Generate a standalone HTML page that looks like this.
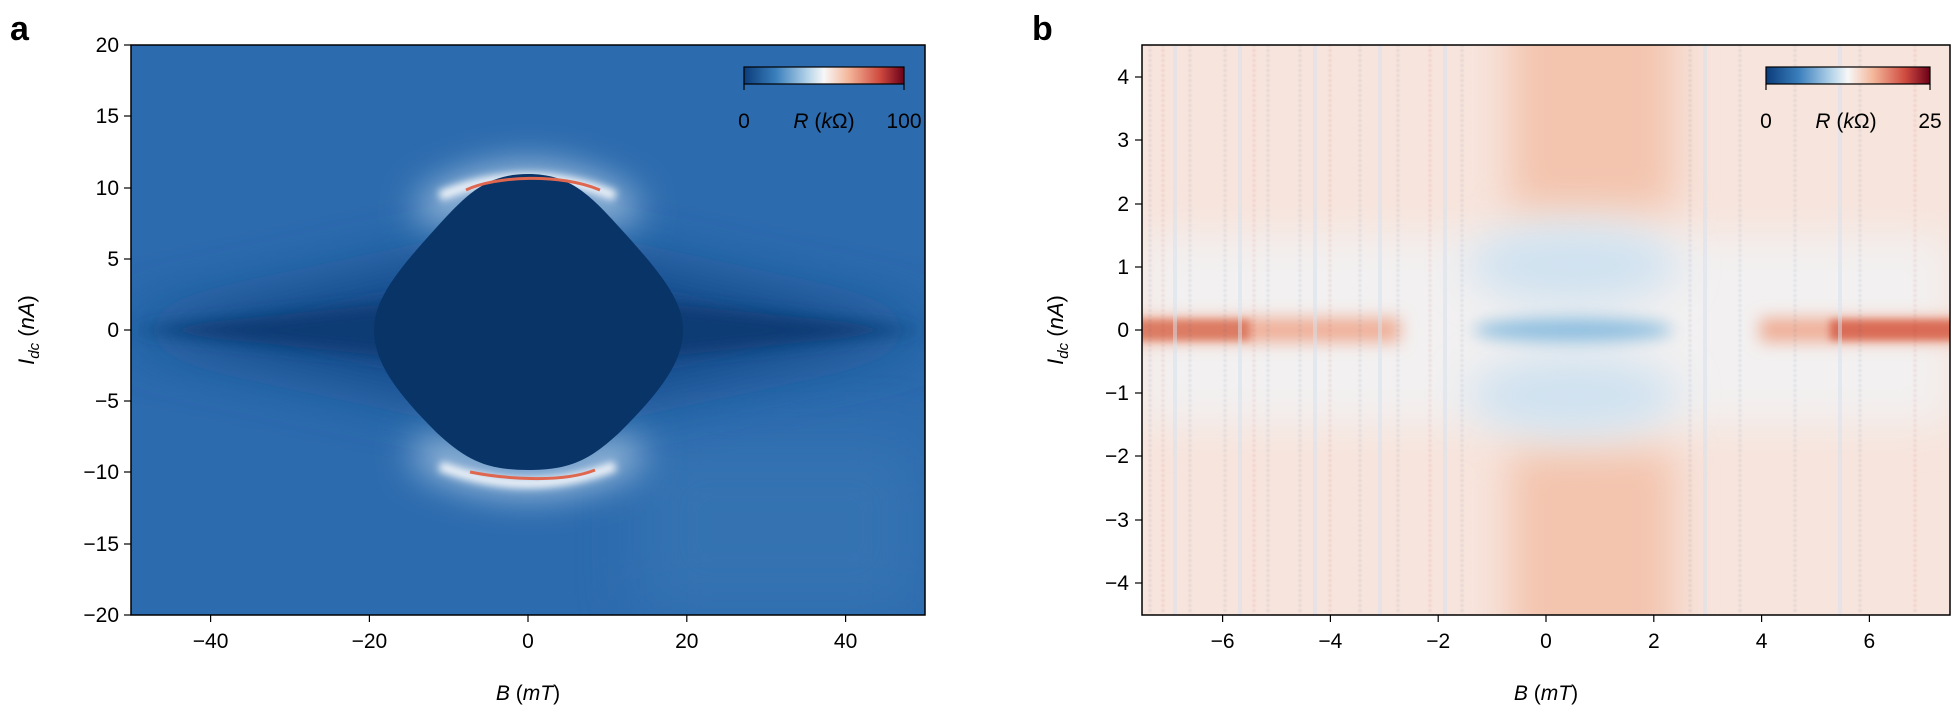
<!DOCTYPE html>
<html><head><meta charset="utf-8"><style>
html,body{margin:0;padding:0;background:#fff;}
svg{display:block;font-family:"Liberation Sans",sans-serif;}
</style></head><body>
<svg width="1953" height="720" viewBox="0 0 1953 720" xmlns="http://www.w3.org/2000/svg">
<defs>
<filter id="b8" filterUnits="userSpaceOnUse" x="0" y="0" width="1953" height="720"><feGaussianBlur stdDeviation="8"/></filter>
<filter id="b20" filterUnits="userSpaceOnUse" x="0" y="0" width="1953" height="720"><feGaussianBlur stdDeviation="20"/></filter>
<filter id="b30" filterUnits="userSpaceOnUse" x="0" y="0" width="1953" height="720"><feGaussianBlur stdDeviation="30"/></filter>
<filter id="b4" filterUnits="userSpaceOnUse" x="0" y="0" width="1953" height="720"><feGaussianBlur stdDeviation="4"/></filter>
<filter id="b1" filterUnits="userSpaceOnUse" x="0" y="0" width="1953" height="720"><feGaussianBlur stdDeviation="1"/></filter>
<linearGradient id="cbar" x1="0" x2="1" y1="0" y2="0">
<stop offset="0" stop-color="#0b3c7a"/><stop offset="0.2" stop-color="#3a7fbd"/><stop offset="0.4" stop-color="#b5d4e9"/><stop offset="0.5" stop-color="#f7f7f7"/><stop offset="0.65" stop-color="#f4b89c"/><stop offset="0.85" stop-color="#cf4a3f"/><stop offset="1" stop-color="#6b0019"/>
</linearGradient>
<clipPath id="ca"><rect x="131" y="45" width="794" height="570"/></clipPath>
<clipPath id="cb"><rect x="1142" y="45" width="808" height="570"/></clipPath>
</defs>

<!-- Panel a -->
<g clip-path="url(#ca)">
<rect x="131" y="45" width="794" height="570" fill="#2c6bae"/>
<rect x="640" y="440" width="280" height="175" fill="#3a78b6" filter="url(#b30)" opacity="0.6"/>
<polygon points="110,330 528,240 945,330 528,420" fill="#124a88" filter="url(#b30)"/>
<polygon points="130,330 528,290 925,330 528,370" fill="#0b3b73" filter="url(#b8)"/>
<path d="M425,215 Q528,150 630,215" fill="none" stroke="#d9e9f5" stroke-width="26" filter="url(#b20)"/>
<path d="M420,448 Q528,505 636,448" fill="none" stroke="#d9e9f5" stroke-width="26" filter="url(#b20)"/>
<path d="M440,196 Q528,160 615,196" fill="none" stroke="#f3f6fa" stroke-width="10" filter="url(#b4)"/>
<path d="M440,466 Q528,500 615,466" fill="none" stroke="#f3f6fa" stroke-width="10" filter="url(#b4)"/>
<path d="M528,174 C570,174 590,195 620,228 C660,272 683,300 683,330 C683,362 660,392 620,432 C590,460 570,470 528,470 C486,470 466,460 436,432 C396,392 374,362 374,330 C374,300 396,272 436,228 C466,195 486,174 528,174 Z" fill="#093468"/>
<path d="M466,190 C495,176 560,173 600,190" fill="none" stroke="#e0674f" stroke-width="3"/>
<path d="M470,472 C500,478 560,484 595,470" fill="none" stroke="#e0674f" stroke-width="3"/>
</g>
<rect x="131" y="45" width="794" height="570" fill="none" stroke="#000" stroke-width="1.5"/>
<rect x="744" y="67" width="160" height="17" fill="url(#cbar)" stroke="#000" stroke-width="1.2"/>
<line x1="744" y1="84" x2="744" y2="90" stroke="#000" stroke-width="1.2"/><line x1="904" y1="84" x2="904" y2="90" stroke="#000" stroke-width="1.2"/>
<g font-size="21" fill="#000">
<text x="744" y="128" text-anchor="middle">0</text>
<text x="824" y="128" text-anchor="middle"><tspan font-style="italic">R</tspan> (<tspan font-style="italic">k</tspan>Ω)</text>
<text x="904" y="128" text-anchor="middle">100</text>
</g>
<g stroke="#000" stroke-width="1.2">
<line x1="124" y1="45" x2="131" y2="45"/><line x1="124" y1="116" x2="131" y2="116"/><line x1="124" y1="188" x2="131" y2="188"/><line x1="124" y1="259" x2="131" y2="259"/><line x1="124" y1="330" x2="131" y2="330"/><line x1="124" y1="401" x2="131" y2="401"/><line x1="124" y1="472" x2="131" y2="472"/><line x1="124" y1="544" x2="131" y2="544"/><line x1="124" y1="615" x2="131" y2="615"/>
<line x1="210.6" y1="615" x2="210.6" y2="622"/><line x1="369.4" y1="615" x2="369.4" y2="622"/><line x1="528" y1="615" x2="528" y2="622"/><line x1="686.8" y1="615" x2="686.8" y2="622"/><line x1="845.6" y1="615" x2="845.6" y2="622"/>
</g>
<g font-size="21" fill="#000" text-anchor="end">
<text x="119" y="52">20</text><text x="119" y="123">15</text><text x="119" y="195">10</text><text x="119" y="266">5</text><text x="119" y="337">0</text><text x="119" y="408">−5</text><text x="119" y="479">−10</text><text x="119" y="551">−15</text><text x="119" y="622">−20</text>
</g>
<g font-size="21" fill="#000" text-anchor="middle">
<text x="210.6" y="648">−40</text><text x="369.4" y="648">−20</text><text x="528" y="648">0</text><text x="686.8" y="648">20</text><text x="845.6" y="648">40</text>
<text x="528" y="700"><tspan font-style="italic">B</tspan> (<tspan font-style="italic">mT</tspan>)</text>
</g>
<text transform="translate(34,330) rotate(-90)" font-size="22" text-anchor="middle"><tspan font-style="italic">I</tspan><tspan font-style="italic" font-size="15" dy="5">dc</tspan><tspan dy="-5"> (</tspan><tspan font-style="italic">nA</tspan>)</text>
<text x="10" y="40" font-size="34" font-weight="bold">a</text>

<!-- Panel b -->
<g clip-path="url(#cb)">
<rect x="1142" y="45" width="808" height="570" fill="#f7e4dc"/>
<rect x="1142" y="235" width="808" height="190" fill="#f2f0f0" filter="url(#b20)"/>
<rect x="1510" y="0" width="165" height="210" fill="#f3c4ae" filter="url(#b20)"/>
<rect x="1510" y="450" width="165" height="220" fill="#f3c4ae" filter="url(#b20)"/>
<ellipse cx="1573" cy="265" rx="105" ry="40" fill="#d0e2f0" filter="url(#b20)"/>
<ellipse cx="1573" cy="395" rx="105" ry="40" fill="#d0e2f0" filter="url(#b20)"/>
<ellipse cx="1573" cy="330" rx="100" ry="12" fill="#8fbfe0" filter="url(#b8)"/>
<rect x="1130" y="318" width="270" height="24" fill="#efae96" filter="url(#b8)"/>
<rect x="1130" y="320" width="120" height="20" fill="#dc7b63" filter="url(#b4)"/>
<rect x="1760" y="318" width="200" height="24" fill="#efae96" filter="url(#b8)"/>
<rect x="1830" y="320" width="130" height="20" fill="#d96c57" filter="url(#b4)"/>
<g stroke-width="1.5" opacity="0.5" stroke-dasharray="1 4" filter="url(#b1)">
<line x1="1150" y1="45" x2="1150" y2="615" stroke="#2a4f86"/>
<line x1="1163" y1="45" x2="1163" y2="615" stroke="#a33"/>
<line x1="1190" y1="45" x2="1190" y2="615" stroke="#2a4f86"/>
<line x1="1225" y1="45" x2="1225" y2="615" stroke="#2a4f86"/>
<line x1="1254" y1="45" x2="1254" y2="615" stroke="#a33"/>
<line x1="1268" y1="45" x2="1268" y2="615" stroke="#2a4f86"/>
<line x1="1300" y1="45" x2="1300" y2="615" stroke="#2a4f86"/>
<line x1="1330" y1="45" x2="1330" y2="615" stroke="#a33"/>
<line x1="1360" y1="45" x2="1360" y2="615" stroke="#2a4f86"/>
<line x1="1398" y1="45" x2="1398" y2="615" stroke="#2a4f86"/>
<line x1="1430" y1="45" x2="1430" y2="615" stroke="#a33"/>
<line x1="1462" y1="45" x2="1462" y2="615" stroke="#2a4f86"/>
<line x1="1690" y1="45" x2="1690" y2="615" stroke="#2a4f86"/>
<line x1="1740" y1="45" x2="1740" y2="615" stroke="#2a4f86"/>
<line x1="1795" y1="45" x2="1795" y2="615" stroke="#2a4f86"/>
<line x1="1860" y1="45" x2="1860" y2="615" stroke="#2a4f86"/>
<line x1="1915" y1="45" x2="1915" y2="615" stroke="#a33"/>
</g>
<g stroke="#d6e2ee" stroke-width="4" opacity="0.5">
<line x1="1175" y1="45" x2="1175" y2="615"/><line x1="1240" y1="45" x2="1240" y2="615"/><line x1="1315" y1="45" x2="1315" y2="615"/><line x1="1380" y1="45" x2="1380" y2="615"/><line x1="1445" y1="45" x2="1445" y2="615"/><line x1="1705" y1="45" x2="1705" y2="615"/><line x1="1840" y1="45" x2="1840" y2="615"/>
</g>
</g>
<rect x="1142" y="45" width="808" height="570" fill="none" stroke="#000" stroke-width="1.5"/>
<rect x="1766" y="67" width="164" height="17" fill="url(#cbar)" stroke="#000" stroke-width="1.2"/>
<line x1="1766" y1="84" x2="1766" y2="90" stroke="#000" stroke-width="1.2"/><line x1="1930" y1="84" x2="1930" y2="90" stroke="#000" stroke-width="1.2"/>
<g font-size="21" fill="#000">
<text x="1766" y="128" text-anchor="middle">0</text>
<text x="1846" y="128" text-anchor="middle"><tspan font-style="italic">R</tspan> (<tspan font-style="italic">k</tspan>Ω)</text>
<text x="1930" y="128" text-anchor="middle">25</text>
</g>
<g stroke="#000" stroke-width="1.2">
<line x1="1135" y1="77" x2="1142" y2="77"/><line x1="1135" y1="140" x2="1142" y2="140"/><line x1="1135" y1="204" x2="1142" y2="204"/><line x1="1135" y1="267" x2="1142" y2="267"/><line x1="1135" y1="330" x2="1142" y2="330"/><line x1="1135" y1="393" x2="1142" y2="393"/><line x1="1135" y1="456" x2="1142" y2="456"/><line x1="1135" y1="520" x2="1142" y2="520"/><line x1="1135" y1="583" x2="1142" y2="583"/>
<line x1="1222.6" y1="615" x2="1222.6" y2="622"/><line x1="1330.4" y1="615" x2="1330.4" y2="622"/><line x1="1438.2" y1="615" x2="1438.2" y2="622"/><line x1="1546" y1="615" x2="1546" y2="622"/><line x1="1653.8" y1="615" x2="1653.8" y2="622"/><line x1="1761.6" y1="615" x2="1761.6" y2="622"/><line x1="1869.4" y1="615" x2="1869.4" y2="622"/>
</g>
<g font-size="21" fill="#000" text-anchor="end">
<text x="1129" y="84">4</text><text x="1129" y="147">3</text><text x="1129" y="211">2</text><text x="1129" y="274">1</text><text x="1129" y="337">0</text><text x="1129" y="400">−1</text><text x="1129" y="463">−2</text><text x="1129" y="527">−3</text><text x="1129" y="590">−4</text>
</g>
<g font-size="21" fill="#000" text-anchor="middle">
<text x="1222.6" y="648">−6</text><text x="1330.4" y="648">−4</text><text x="1438.2" y="648">−2</text><text x="1546" y="648">0</text><text x="1653.8" y="648">2</text><text x="1761.6" y="648">4</text><text x="1869.4" y="648">6</text>
<text x="1546" y="700"><tspan font-style="italic">B</tspan> (<tspan font-style="italic">mT</tspan>)</text>
</g>
<text transform="translate(1063,330) rotate(-90)" font-size="22" text-anchor="middle"><tspan font-style="italic">I</tspan><tspan font-style="italic" font-size="15" dy="5">dc</tspan><tspan dy="-5"> (</tspan><tspan font-style="italic">nA</tspan>)</text>
<text x="1032" y="40" font-size="34" font-weight="bold">b</text>
</svg>
</body></html>
